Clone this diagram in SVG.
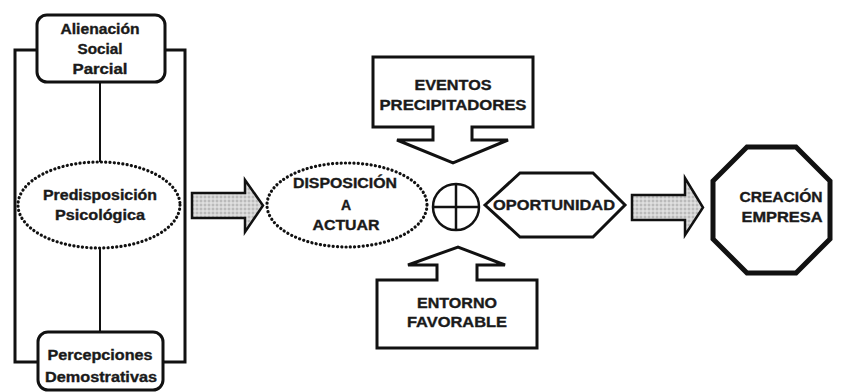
<svg xmlns="http://www.w3.org/2000/svg" width="842" height="392" viewBox="0 0 842 392">
<defs>
<pattern id="dots" width="4" height="4" patternUnits="userSpaceOnUse">
<rect width="4" height="4" fill="#d4d4d4"/>
<circle cx="1" cy="1" r="0.8" fill="#9a9a9a"/>
<circle cx="3" cy="3" r="0.8" fill="#eeeeee"/>
</pattern>
</defs>
<style>
text{font-family:"Liberation Sans",Arial,sans-serif;font-weight:bold;fill:#1a1a1a;stroke:#1a1a1a;stroke-width:0.35;text-anchor:middle;font-size:14px}
.box{fill:#fff;stroke:#111;stroke-width:3}
.frame{fill:none;stroke:#111;stroke-width:3}
.thin{fill:none;stroke:#111;stroke-width:2}
.dot{fill:#fff;stroke:#111;stroke-width:3.2;stroke-dasharray:0.1 4.2;stroke-linecap:round}
.gray{fill:url(#dots);stroke:#111;stroke-width:2.5;stroke-linejoin:miter}
</style>
<rect width="842" height="392" fill="#fff"/>
<g id="connectors">
<polyline class="frame" points="38,50 15,50 15,362 38,362"/>
<polyline class="frame" points="164,50 185,50 185,362 164,362"/>
<line class="thin" x1="100" y1="82" x2="100" y2="162"/>
<line class="thin" x1="100" y1="248" x2="100" y2="332"/>
<path id="arrow1" class="gray" d="M192,193 H245 V180 L263,205.5 L245,232 V218 H192 Z"/>
<path id="arrow2" class="gray" d="M632,195 H685 V178 L703,207.5 L685,235 V220 H632 Z"/>
</g>
<g id="alienacion">
<rect class="box" x="37" y="15" width="128" height="67" rx="10"/>
<text x="100" y="34" textLength="79" lengthAdjust="spacingAndGlyphs">Alienación</text>
<text x="100" y="54" textLength="45" lengthAdjust="spacingAndGlyphs">Social</text>
<text x="100" y="74" textLength="55" lengthAdjust="spacingAndGlyphs">Parcial</text>
</g>
<g id="predisposicion">
<ellipse class="dot" cx="99" cy="205" rx="81" ry="43"/>
<text x="100" y="200" textLength="114" lengthAdjust="spacingAndGlyphs">Predisposición</text>
<text x="100" y="220" textLength="90" lengthAdjust="spacingAndGlyphs">Psicológica</text>
</g>
<g id="percepciones">
<rect class="box" x="38" y="332" width="125" height="58" rx="10"/>
<text x="100" y="360" textLength="105" lengthAdjust="spacingAndGlyphs">Percepciones</text>
<text x="101" y="382" textLength="112" lengthAdjust="spacingAndGlyphs">Demostrativas</text>
</g>
<g id="disposicion">
<ellipse class="dot" cx="347" cy="205" rx="80" ry="42"/>
<text x="345" y="188" textLength="104" lengthAdjust="spacingAndGlyphs">DISPOSICIÓN</text>
<text x="346" y="210">A</text>
<text x="346" y="230" textLength="67" lengthAdjust="spacingAndGlyphs">ACTUAR</text>
</g>
<g id="suma">
<circle cx="456" cy="207" r="23" fill="#fff" stroke="#111" stroke-width="2.5"/>
<line x1="433" y1="207" x2="479" y2="207" stroke="#111" stroke-width="2.5"/>
<line x1="456" y1="184" x2="456" y2="230" stroke="#111" stroke-width="2.5"/>
</g>
<g id="oportunidad">
<polygon class="box" points="485,205 520,173 593,173 625,205 593,237 520,237"/>
<text x="554" y="210" textLength="122" lengthAdjust="spacingAndGlyphs">OPORTUNIDAD</text>
</g>
<g id="eventos">
<path class="box" stroke-linejoin="miter" d="M373,57 H533 V127 H472 V140 H508 L453,163 L397,140 H433 V127 H373 Z"/>
<text x="453" y="90" textLength="77" lengthAdjust="spacingAndGlyphs">EVENTOS</text>
<text x="453" y="110" textLength="147" lengthAdjust="spacingAndGlyphs">PRECIPITADORES</text>
</g>
<g id="entorno">
<path class="box" stroke-linejoin="miter" d="M377,280 H437 V265 H408 L458,247 L505,265 H477 V280 H537 V348 H377 Z"/>
<text x="457" y="308" textLength="80" lengthAdjust="spacingAndGlyphs">ENTORNO</text>
<text x="457" y="327" textLength="100" lengthAdjust="spacingAndGlyphs">FAVORABLE</text>
</g>
<g id="creacion">
<polygon fill="#fff" stroke="#111" stroke-width="5" points="747,147 796,147 830,181 830,239 796,273 747,273 713,239 713,181"/>
<text x="781" y="202" textLength="83" lengthAdjust="spacingAndGlyphs">CREACIÓN</text>
<text x="782" y="222" textLength="81" lengthAdjust="spacingAndGlyphs">EMPRESA</text>
</g>
</svg>
